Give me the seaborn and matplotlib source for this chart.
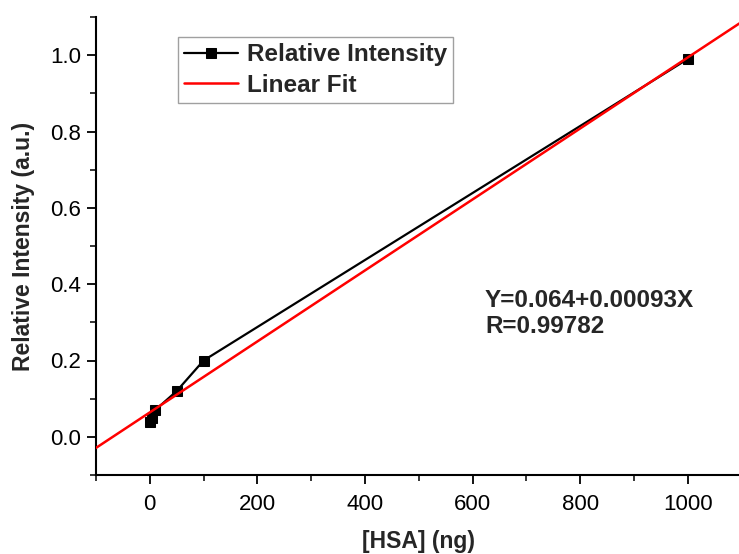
import matplotlib
matplotlib.use("Agg")
import matplotlib.pyplot as plt
import seaborn as sns
import numpy as np
import pandas as pd
from matplotlib.ticker import MultipleLocator

hsa_ng = [1, 5, 10, 50, 100, 1000]
rel_intensity = [0.04, 0.05, 0.07, 0.12, 0.20, 0.99]
fit_intercept = 0.064
fit_slope = 0.00093
fit_x = [-100, 1100]
fit_label = "Y=0.064+0.00093X"
r_label = "R=0.99782"
x_ticks = [0, 200, 400, 600, 800, 1000]
y_ticks = [0.0, 0.2, 0.4, 0.6, 0.8, 1.0]
y_tick_labels = ["0.0", "0.2", "0.4", "0.6", "0.8", "1.0"]

sns.set_theme(style="ticks")
plt.rcParams['font.family'] = ['Liberation Sans', 'DejaVu Sans']

fig = plt.figure(figsize=(7.39, 5.54), dpi=100)
ax = fig.add_axes([96 / 739, 79 / 554, 645.6 / 739, 458 / 554])

df = pd.DataFrame({"x": hsa_ng, "y": rel_intensity})
fit_y = [fit_intercept + fit_slope * v for v in fit_x]
fdf = pd.DataFrame({"x": fit_x, "y": fit_y})

sns.lineplot(data=df, x="x", y="y", ax=ax, color="black", marker="s",
             markersize=7.5, markeredgecolor="black", linewidth=1.6,
             label="Relative Intensity", zorder=3)
sns.lineplot(data=fdf, x="x", y="y", ax=ax, color="#ff0000", linewidth=1.8,
             label="Linear Fit", zorder=4)

ax.set_xlim(-100, 1100)
ax.set_ylim(-0.1, 1.1)
ax.xaxis.set_minor_locator(MultipleLocator(100))
ax.yaxis.set_minor_locator(MultipleLocator(0.1))
ax.set_xticks(x_ticks)
ax.set_yticks(y_ticks)
ax.set_yticklabels(y_tick_labels)

for s in ["top", "right"]:
    ax.spines[s].set_visible(False)
for s in ["left", "bottom"]:
    ax.spines[s].set_linewidth(1.5)
    ax.spines[s].set_color("black")

ax.tick_params(axis="both", which="major", direction="out", length=6.5, width=1.3,
               labelsize=16, colors="black", pad=4)
ax.tick_params(axis="x", which="major", pad=7)
ax.tick_params(axis="both", which="minor", direction="out", length=4, width=1.3)

ax.set_xlabel("[HSA] (ng)", fontsize=16.5, fontweight="bold", labelpad=11)
ax.set_ylabel("Relative Intensity (a.u.)", fontsize=16.5, fontweight="bold", labelpad=11)

leg = ax.legend(loc="upper left", bbox_to_anchor=(0.127, 0.956), borderaxespad=0,
                prop={"weight": "bold", "size": 17.5}, frameon=True,
                fancybox=False, edgecolor="#888888", handlelength=2.2,
                handletextpad=0.4, borderpad=0.25, labelspacing=0.3)
leg.get_frame().set_linewidth(1.0)

ax.text(0.6025, 0.382, fit_label, transform=ax.transAxes,
        fontsize=17.5, fontweight="bold", ha="left", va="center")
ax.text(0.6025, 0.325, r_label, transform=ax.transAxes,
        fontsize=17.5, fontweight="bold", ha="left", va="center")

fig.savefig("out.png", dpi=100)
